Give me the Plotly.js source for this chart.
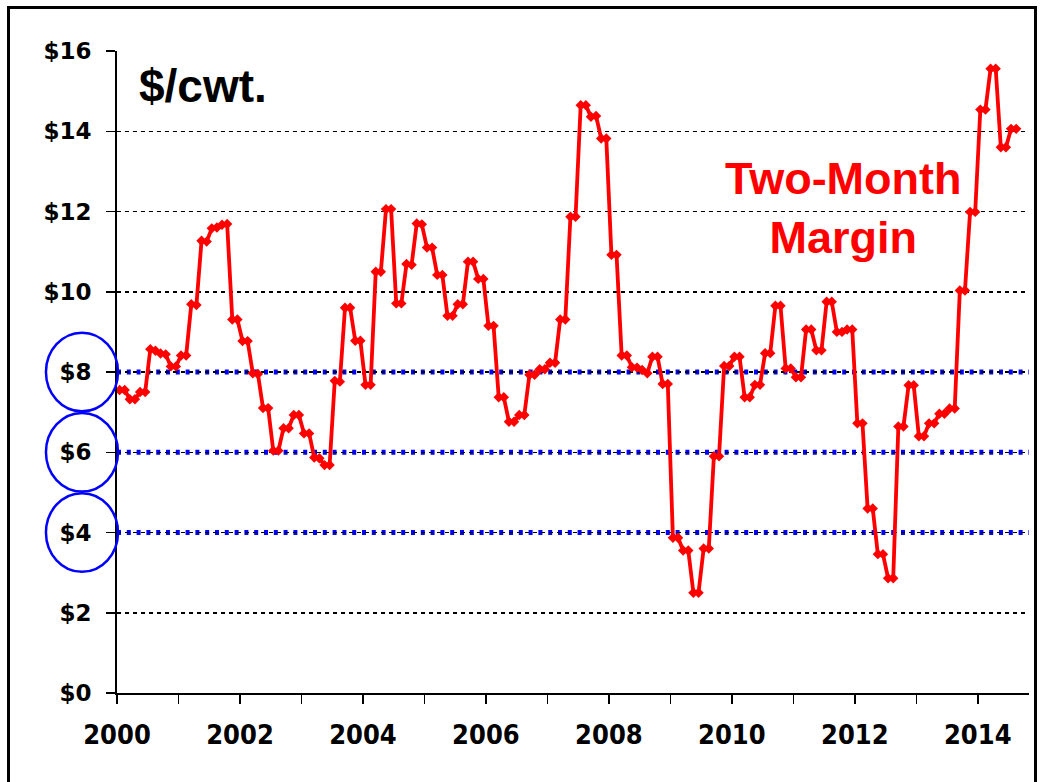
<!DOCTYPE html>
<html>
<head>
<meta charset="utf-8">
<script src="https://cdn.plot.ly/plotly-3.0.1.min.js"></script>
<style>
  html, body { margin: 0; padding: 0; background: #fff; overflow: hidden; }
  #chart { width: 1040px; height: 782px; }
  #frame { position: absolute; left: 7px; top: 6px; width: 1030px; height: 820px;
           border: 3px solid #000; box-sizing: border-box; pointer-events: none; }
</style>
</head>
<body>
<div id="chart"></div>
<div id="frame"></div>
<script>
// Two-month margin, $/cwt., monthly points Jan 2000 - Aug 2014
const startYear = 2000;
const margin2000 = [7.55, 7.55, 7.32, 7.32, 7.50, 7.50, 8.57, 8.53, 8.46, 8.44, 8.14, 8.14];
const margin2001 = [8.41, 8.41, 9.69, 9.67, 11.27, 11.25, 11.58, 11.60, 11.67, 11.69, 9.31, 9.31];
const margin2002 = [8.77, 8.77, 7.97, 7.95, 7.10, 7.10, 6.04, 6.04, 6.60, 6.60, 6.93, 6.93];
const margin2003 = [6.47, 6.47, 5.87, 5.85, 5.68, 5.68, 7.78, 7.76, 9.60, 9.60, 8.78, 8.78];
const margin2004 = [7.68, 7.68, 10.50, 10.50, 12.06, 12.06, 9.71, 9.71, 10.69, 10.67, 11.70, 11.68];
const margin2005 = [11.10, 11.10, 10.42, 10.42, 9.40, 9.40, 9.69, 9.69, 10.75, 10.75, 10.32, 10.32];
const margin2006 = [9.15, 9.15, 7.37, 7.37, 6.76, 6.76, 6.93, 6.93, 7.93, 7.93, 8.07, 8.07];
const margin2007 = [8.23, 8.23, 9.31, 9.31, 11.87, 11.87, 14.65, 14.65, 14.36, 14.38, 13.82, 13.82];
const margin2008 = [10.92, 10.92, 8.41, 8.41, 8.12, 8.11, 8.05, 7.97, 8.38, 8.38, 7.70, 7.70];
const margin2009 = [3.87, 3.87, 3.55, 3.55, 2.50, 2.50, 3.60, 3.60, 5.90, 5.90, 8.15, 8.15];
const margin2010 = [8.38, 8.38, 7.37, 7.37, 7.68, 7.68, 8.47, 8.47, 9.65, 9.65, 8.09, 8.09];
const margin2011 = [7.87, 7.87, 9.06, 9.06, 8.54, 8.54, 9.75, 9.75, 9.00, 9.00, 9.06, 9.06];
const margin2012 = [6.72, 6.72, 4.60, 4.60, 3.46, 3.46, 2.86, 2.86, 6.64, 6.64, 7.67, 7.67];
const margin2013 = [6.40, 6.40, 6.72, 6.72, 6.96, 6.96, 7.09, 7.09, 10.03, 10.03, 11.99, 11.99];
const margin2014 = [14.54, 14.54, 15.56, 15.56, 13.60, 13.60, 14.06, 14.06];

const yTicks = [0, 2, 4, 6, 8, 10, 12, 14, 16];
const yTickLabels = ["$0", "$2", "$4", "$6", "$8", "$10", "$12", "$14", "$16"];
const xTickYears = [2000, 2001, 2002, 2003, 2004, 2005, 2006, 2007, 2008, 2009, 2010, 2011, 2012, 2013, 2014];
const xTickLabels = ["2000", "", "2002", "", "2004", "", "2006", "", "2008", "", "2010", "", "2012", "", "2014"];
const keyLevels = [4, 6, 8];
const unitLabel = "$/cwt.";
const seriesLabel = "Two-Month<br>Margin";

const values = [].concat(margin2000, margin2001, margin2002, margin2003, margin2004,
  margin2005, margin2006, margin2007, margin2008, margin2009, margin2010,
  margin2011, margin2012, margin2013, margin2014);
const xs = values.map((v, i) => startYear + (i + 0.5) / 12);

const trace = {
  x: xs, y: values, type: 'scatter', mode: 'lines+markers',
  line: { color: '#FF0000', width: 3.8 },
  marker: { symbol: 'diamond', size: 8, color: '#FF0000' },
  hoverinfo: 'skip'
};

const shapes = [];
keyLevels.forEach(v => {
  shapes.push({ type: 'line', xref: 'paper', yref: 'y', x0: 0, x1: 1, y0: v, y1: v,
    line: { color: '#0000FF', width: 5, dash: '4px,5.8px' }, layer: 'below' });
  shapes.push({ type: 'circle', xref: 'paper', yref: 'y', x0: -0.0779, x1: 0.0011,
    y0: v - 0.98, y1: v + 0.98, line: { color: '#0000FF', width: 2.5 } });
});

const layout = {
  width: 1040, height: 782,
  margin: { l: 117, r: 11, t: 51, b: 89 },
  paper_bgcolor: '#fff', plot_bgcolor: '#fff',
  showlegend: false,
  xaxis: {
    range: [2000, 2000 + 178 / 12], autorange: false,
    tickmode: 'array', tickvals: xTickYears, ticktext: xTickLabels,
    ticks: 'outside', ticklen: 9, tickwidth: 1.5, tickcolor: '#000',
    showline: true, linecolor: '#000', linewidth: 2,
    showgrid: false, zeroline: false,
    tickfont: { family: 'DejaVu Sans Condensed, DejaVu Sans, sans-serif', weight: 'bold', color: '#000', size: 27 },
    ticklabelstandoff: 8
  },
  yaxis: {
    range: [0, 16], autorange: false,
    tickmode: 'array', tickvals: yTicks, ticktext: yTickLabels,
    ticks: 'outside', ticklen: 9, tickwidth: 1.5, tickcolor: '#000',
    showline: true, linecolor: '#000', linewidth: 2,
    showgrid: true, gridcolor: '#000', gridwidth: 1.5, griddash: '4px,4px',
    zeroline: false,
    tickfont: { family: 'DejaVu Sans, sans-serif', weight: 'bold', color: '#000', size: 23 },
    ticklabelstandoff: 10
  },
  shapes: shapes,
  annotations: [
    { text: unitLabel, xref: 'paper', yref: 'paper', x: 0.094, y: 0.945,
      xanchor: 'center', yanchor: 'middle', showarrow: false,
      font: { family: 'Liberation Sans, Arial, sans-serif', size: 46, weight: 'bold', color: '#000' } },
    { text: seriesLabel, xref: 'paper', yref: 'paper', x: 0.797, y: 0.755,
      xanchor: 'center', yanchor: 'middle', showarrow: false,
      font: { family: 'Liberation Sans, Arial, sans-serif', size: 45, weight: 'bold', color: '#FF0000' } }
  ]
};

Plotly.newPlot('chart', [trace], layout, { staticPlot: true, displayModeBar: false });
</script>
</body>
</html>
